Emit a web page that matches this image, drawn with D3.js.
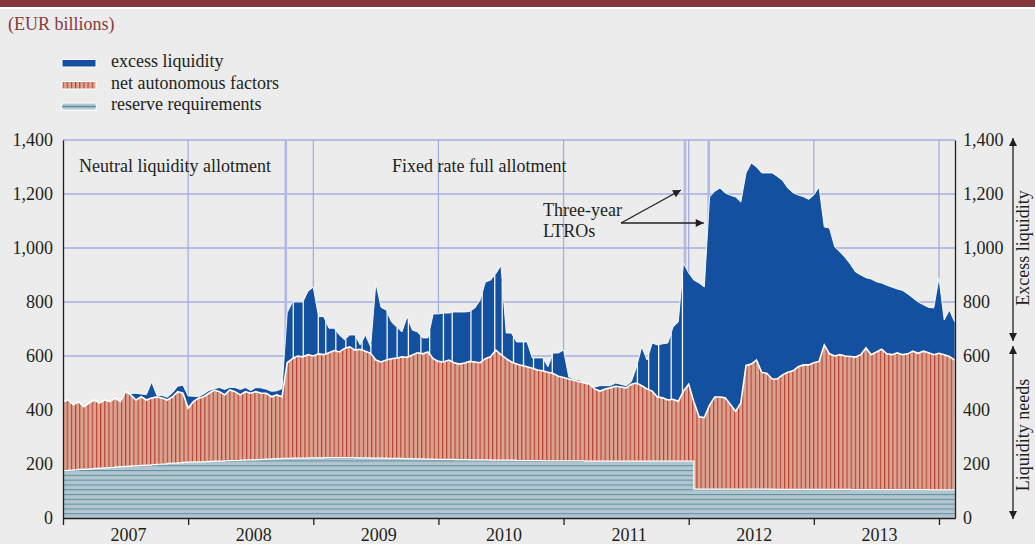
<!DOCTYPE html>
<html>
<head>
<meta charset="utf-8">
<script src="https://d3js.org/d3.v7.min.js"></script>
<style>
	body { margin: 0; background: #ebeceb; }
	svg { display: block; font-family: "Liberation Serif", "Times New Roman", serif; }
</style>
</head>
<body>
<svg id="chart" width="1035" height="544"></svg>
<script>
// half-monthly readings, the first one at the start of 2007
var firstYear = 2007;
var stepsPerYear = 24;

var reserveRequirements = [
	176, 177, 178, 180, 181, 182, 184, 185, 186, 187, 189, 190, 191, 193, 194, 195, 196, 198, 199, 200, 202, 203, 204, 206,
	207, 208, 208, 209, 210, 211, 211, 212, 213, 213, 214, 215, 215, 216, 217, 218, 219, 220, 221, 221, 222, 222, 222, 223,
	223, 223, 224, 224, 224, 224, 224, 224, 223, 223, 223, 222, 222, 222, 221, 221, 221, 220, 220, 219, 219, 218, 218, 217,
	217, 217, 217, 216, 216, 216, 215, 215, 215, 215, 214, 214, 214, 214, 214, 213, 213, 213, 213, 213, 212, 212, 212, 212,
	212, 212, 212, 212, 211, 211, 211, 211, 211, 211, 211, 211, 211, 211, 211, 211, 211, 211, 211, 211, 211, 211, 211, 211,
	211, 107, 107, 107, 107, 107, 107, 107, 107, 107, 107, 107, 107, 107, 107, 107, 106, 106, 106, 106, 106, 106, 106, 106,
	106, 106, 106, 106, 106, 106, 106, 105, 105, 105, 105, 105, 105, 105, 105, 105, 105, 105, 105, 105, 105, 105, 104, 104,
	104, 104, 104, 104];

var netAutonomousFactors = [
	255, 260, 241, 251, 231, 244, 253, 241, 251, 244, 255, 241, 277, 263, 243, 254, 241, 246, 250, 244, 235, 246, 264, 256,
	200, 223, 236, 240, 252, 263, 257, 244, 261, 255, 242, 253, 247, 252, 245, 244, 230, 236, 228, 354, 368, 378, 375, 382,
	377, 385, 381, 388, 396, 391, 404, 410, 399, 402, 395, 388, 363, 356, 364, 369, 371, 377, 375, 385, 393, 390, 397, 373,
	363, 361, 368, 359, 354, 358, 365, 363, 360, 375, 383, 408, 391, 376, 364, 357, 352, 347, 342, 335, 333, 328, 323, 313,
	308, 303, 298, 293, 289, 284, 267, 259, 267, 271, 277, 274, 271, 284, 289, 279, 267, 259, 237, 234, 226, 229, 221, 259,
	284, 323, 268, 265, 311, 341, 341, 338, 313, 288, 319, 458, 463, 478, 433, 428, 409, 409, 424, 434, 439, 454, 461, 461,
	469, 474, 535, 502, 494, 499, 494, 493, 491, 500, 525, 500, 510, 520, 503, 500, 507, 500, 503, 513, 505, 513, 508, 501,
	506, 501, 494, 481];

var excessLiquidity = [
	0, 0, 0, 0, 0, 0, 0, 0, 0, 0, 0, 0, 0, 5, 25, 10, 20, 60, 5, 10, 10, 15, 20, 30,
	45, 20, 5, 10, 10, 5, 15, 20, 10, 15, 20, 15, 10, 15, 20, 15, 20, 15, 30, 185, 210, 200, 203, 235,
	255, 138, 141, 91, 83, 63, 32, 44, 56, 16, 60, 24, 285, 202, 185, 136, 115, 92, 150, 92, 77, 59, 52, 166,
	176, 181, 174, 188, 193, 189, 185, 200, 232, 284, 284, 283, 330, 95, 107, 82, 87, 92, 38, 45, 48, 20, 76, 86,
	102, 7, 5, 6, 0, 0, 7, 20, 12, 8, 12, 10, 8, 10, 60, 144, 107, 178, 193, 200, 211, 267, 294, 474,
	412, 451, 495, 484, 771, 762, 774, 759, 775, 794, 744, 713, 745, 715, 738, 743, 763, 750, 720, 682, 660, 636, 623, 613,
	621, 646, 437, 466, 404, 380, 365, 342, 315, 295, 260, 280, 260, 245, 254, 250, 236, 238, 222, 197, 190, 172, 168, 173,
	279, 128, 172, 141];

// ends of maintenance periods, where excess liquidity falls back to nothing
var periodEnds = [
	2008.84, 2008.92, 2009.04, 2009.10, 2009.18, 2009.26, 2009.34, 2009.39, 2009.46, 2009.59, 2009.67, 2009.76,
	2009.86, 2009.93, 2010.04, 2010.11, 2010.26, 2010.35, 2010.45, 2010.51, 2010.60, 2010.68, 2010.76, 2010.84,
	2010.91, 2011.59, 2011.68, 2011.76, 2011.86, 2011.95];

// start of fixed rate full allotment and the two three-year LTROs
var eventDates = [2008.78, 2011.97, 2012.16];

var yearTicks = [2007, 2008, 2009, 2010, 2011, 2012, 2013, 2014];
var yearLabels = ["2007", "2008", "2009", "2010", "2011", "2012", "2013"];
var valueTicks = [0, 200, 400, 600, 800, 1000, 1200, 1400];

var Chart = (function () {
	function Chart() {
	}

	var blue = "#13509f";
	var grid = "#a6afdf";
	var ink = "#231f20";

	Chart.draw = function (elementId) {
		var svg = d3.select("#" + elementId);

		var x = d3.scaleLinear().domain([2007, 2014.128]).range([63, 955]);
		var y = d3.scaleLinear().domain([0, 1400]).range([518, 140]);

		var rows = excessLiquidity.map(function (d, i) {
			return {
				date: firstYear + i / stepsPerYear,
				reserve: reserveRequirements[i],
				autonomous: netAutonomousFactors[i],
				excess: d
			};
		});
		var layers = d3.stack().keys(["reserve", "autonomous", "excess"])(rows);

		var defs = svg.append("defs");
		var red = defs.append("pattern")
			.attr("id", "redStripes")
			.attr("patternUnits", "userSpaceOnUse")
			.attr("width", 4.17)
			.attr("height", 10);
		red.append("rect").attr("width", 4.17).attr("height", 10).attr("fill", "#dba390");
		red.append("rect").attr("width", 1.1).attr("height", 10).attr("fill", "#b33f31");

		var teal = defs.append("pattern")
			.attr("id", "reserveStripes")
			.attr("patternUnits", "userSpaceOnUse")
			.attr("width", 10)
			.attr("height", 4.8)
			.attr("y", 518);
		teal.append("rect").attr("width", 10).attr("height", 4.8).attr("fill", "#b3c6cf");
		teal.append("rect").attr("width", 10).attr("height", 1.1).attr("fill", "#5f93a3");

		defs.append("clipPath").attr("id", "plotClip")
			.append("rect").attr("x", 63).attr("y", 100).attr("width", 892).attr("height", 418);

		var arrow = defs.append("marker")
			.attr("id", "arrowHead")
			.attr("viewBox", "0 0 10 10")
			.attr("refX", 10)
			.attr("refY", 5)
			.attr("markerUnits", "userSpaceOnUse")
			.attr("markerWidth", 10)
			.attr("markerHeight", 8)
			.attr("orient", "auto-start-reverse");
		arrow.append("path").attr("d", "M0,0L10,5L0,10Z").attr("fill", ink);

		svg.append("rect").attr("width", 1035).attr("height", 544).attr("fill", "#ebeceb");
		svg.append("rect").attr("width", 1035).attr("height", 7).attr("fill", "#86353a");
		svg.append("rect").attr("y", 7).attr("width", 1035).attr("height", 2).attr("fill", "#ffffff");

		svg.append("text")
			.attr("x", 8).attr("y", 30)
			.attr("font-size", 18)
			.attr("fill", "#8a3a3c")
			.text("(EUR billions)");

		drawLegend(svg);

		// grid
		var gridG = svg.append("g").attr("stroke", grid).attr("stroke-width", 1.3);
		gridG.selectAll("line.h")
			.data(valueTicks.filter(function (d) { return d > 0; }))
			.enter()
				.append("line")
					.attr("x1", 63).attr("x2", 955)
					.attr("y1", function (d) { return y(d); })
					.attr("y2", function (d) { return y(d); });
		gridG.selectAll("line.v")
			.data(yearTicks.slice(1))
			.enter()
				.append("line")
					.attr("x1", function (d) { return x(d); })
					.attr("x2", function (d) { return x(d); })
					.attr("y1", 140).attr("y2", 518);
		gridG.selectAll("line.e")
			.data(eventDates)
			.enter()
				.append("line")
					.attr("stroke", "#b1b9e6")
					.attr("stroke-width", 2.6)
					.attr("x1", function (d) { return x(d); })
					.attr("x2", function (d) { return x(d); })
					.attr("y1", 140).attr("y2", 518);

		var plot = svg.append("g").attr("clip-path", "url(#plotClip)");

		var band = d3.area()
			.x(function (d) { return x(d.data.date); })
			.y0(function (d) { return y(d[0]); })
			.y1(function (d) { return y(d[1]); });
		var fromZero = d3.area()
			.x(function (d) { return x(d.data.date); })
			.y0(y(0))
			.y1(function (d) { return y(d[1]); });
		var top = d3.line()
			.x(function (d) { return x(d.data.date); })
			.y(function (d) { return y(d[1]); });

		plot.append("path").attr("d", band(layers[2])).attr("fill", blue);
		plot.append("path").attr("d", top(layers[2]))
			.attr("fill", "none").attr("stroke", "#ffffff").attr("stroke-width", 0.9);

		// thin breaks in the blue at each period end
		plot.append("g")
			.attr("stroke", "#f6f6f6")
			.attr("stroke-width", 1.3)
			.selectAll("line")
			.data(periodEnds)
			.enter()
				.append("line")
					.attr("x1", function (d) { return x(d); })
					.attr("x2", function (d) { return x(d); })
					.attr("y1", function (d) { return y(valueAt(layers[2], d, 1)); })
					.attr("y2", function (d) { return y(valueAt(layers[2], d, 0)); });

		plot.append("path").attr("d", fromZero(layers[1])).attr("fill", "url(#redStripes)");
		plot.append("path").attr("d", top(layers[1]))
			.attr("fill", "none").attr("stroke", "#ffffff").attr("stroke-width", 1.6);

		plot.append("path").attr("d", fromZero.curve(d3.curveStepAfter)(layers[0])).attr("fill", "url(#reserveStripes)");
		plot.append("path").attr("d", top.curve(d3.curveStepAfter)(layers[0]))
			.attr("fill", "none").attr("stroke", "#ffffff").attr("stroke-width", 1.2);

		// axes
		var leftAxis = svg.append("g")
			.attr("transform", "translate(63,0)")
			.call(d3.axisLeft(y).tickValues(valueTicks).tickSize(0).tickPadding(10).tickFormat(d3.format(",")));
		var rightAxis = svg.append("g")
			.attr("transform", "translate(955,0)")
			.call(d3.axisRight(y).tickValues(valueTicks).tickSize(0).tickPadding(8).tickFormat(d3.format(",")));
		var bottomAxis = svg.append("g")
			.attr("transform", "translate(0,518)")
			.call(d3.axisBottom(x).tickValues(yearTicks).tickSize(7).tickSizeOuter(0).tickFormat(""));

		[leftAxis, rightAxis, bottomAxis].forEach(function (g) {
			g.selectAll("text")
				.attr("font-family", "Liberation Serif")
				.attr("font-size", 18)
				.attr("fill", ink);
			g.select(".domain").attr("stroke", ink).attr("stroke-width", 1.3);
			g.selectAll(".tick line").attr("stroke", ink).attr("stroke-width", 1.3);
		});

		svg.append("g")
			.selectAll("text")
			.data(yearLabels)
			.enter()
				.append("text")
					.attr("x", function (d) { return x(+d + 0.5) + 3; })
					.attr("y", 541)
					.attr("text-anchor", "middle")
					.attr("font-size", 18)
					.attr("fill", ink)
					.text(function (d) { return d; });

		// annotations
		var notes = svg.append("g").attr("font-size", 18).attr("fill", ink);
		notes.append("text").attr("x", 79).attr("y", 172).text("Neutral liquidity allotment");
		notes.append("text").attr("x", 392).attr("y", 172).text("Fixed rate full allotment");
		notes.append("text").attr("x", 543).attr("y", 216).text("Three-year");
		notes.append("text").attr("x", 543).attr("y", 237).text("LTROs");

		var arrows = svg.append("g").attr("stroke", ink).attr("stroke-width", 1.3).attr("fill", "none");
		arrows.append("line")
			.attr("x1", 621).attr("y1", 223).attr("x2", x(eventDates[1]) - 4).attr("y2", 190)
			.attr("marker-end", "url(#arrowHead)");
		arrows.append("line")
			.attr("x1", 621).attr("y1", 223).attr("x2", x(eventDates[2]) - 5).attr("y2", 223)
			.attr("marker-end", "url(#arrowHead)");
		arrows.append("line")
			.attr("x1", 1013).attr("y1", 138).attr("x2", 1013).attr("y2", 341)
			.attr("marker-start", "url(#arrowHead)").attr("marker-end", "url(#arrowHead)");
		arrows.append("line")
			.attr("x1", 1013).attr("y1", 346).attr("x2", 1013).attr("y2", 519)
			.attr("marker-start", "url(#arrowHead)").attr("marker-end", "url(#arrowHead)");

		notes.append("text")
			.attr("transform", "translate(1029,248) rotate(-90)")
			.attr("text-anchor", "middle")
			.text("Excess liquidity");
		notes.append("text")
			.attr("transform", "translate(1029,435) rotate(-90)")
			.attr("text-anchor", "middle")
			.text("Liquidity needs");
	};

	function valueAt(layer, date, k) {
		var pos = (date - firstYear) * stepsPerYear;
		var i = Math.min(Math.floor(pos), layer.length - 2);
		var f = pos - i;
		return layer[i][k] * (1 - f) + layer[i + 1][k] * f;
	}

	function drawLegend(svg) {
		var g = svg.append("g");
		g.append("rect")
			.attr("x", 62).attr("y", 59.5).attr("width", 34).attr("height", 7.5)
			.attr("fill", blue).attr("stroke", "#ffffff").attr("stroke-width", 1);
		g.append("rect")
			.attr("x", 62).attr("y", 81.5).attr("width", 34).attr("height", 7.5)
			.attr("fill", "url(#redStripes)").attr("stroke", "#ffffff").attr("stroke-width", 1);
		g.append("rect")
			.attr("x", 62).attr("y", 103).attr("width", 34).attr("height", 7)
			.attr("fill", "#b3c6cf").attr("stroke", "#ffffff").attr("stroke-width", 1);
		g.append("line")
			.attr("x1", 62).attr("x2", 96).attr("y1", 106.5).attr("y2", 106.5)
			.attr("stroke", "#5f93a3").attr("stroke-width", 1.4);

		g.selectAll("text")
			.data(["excess liquidity", "net autonomous factors", "reserve requirements"])
			.enter()
				.append("text")
					.attr("x", 111)
					.attr("y", function (d, i) { return 67 + i * 21.6; })
					.attr("font-size", 18)
					.attr("fill", ink)
					.text(function (d) { return d; });
	}

	return Chart;
})();

Chart.draw("chart");
</script>
</body>
</html>
